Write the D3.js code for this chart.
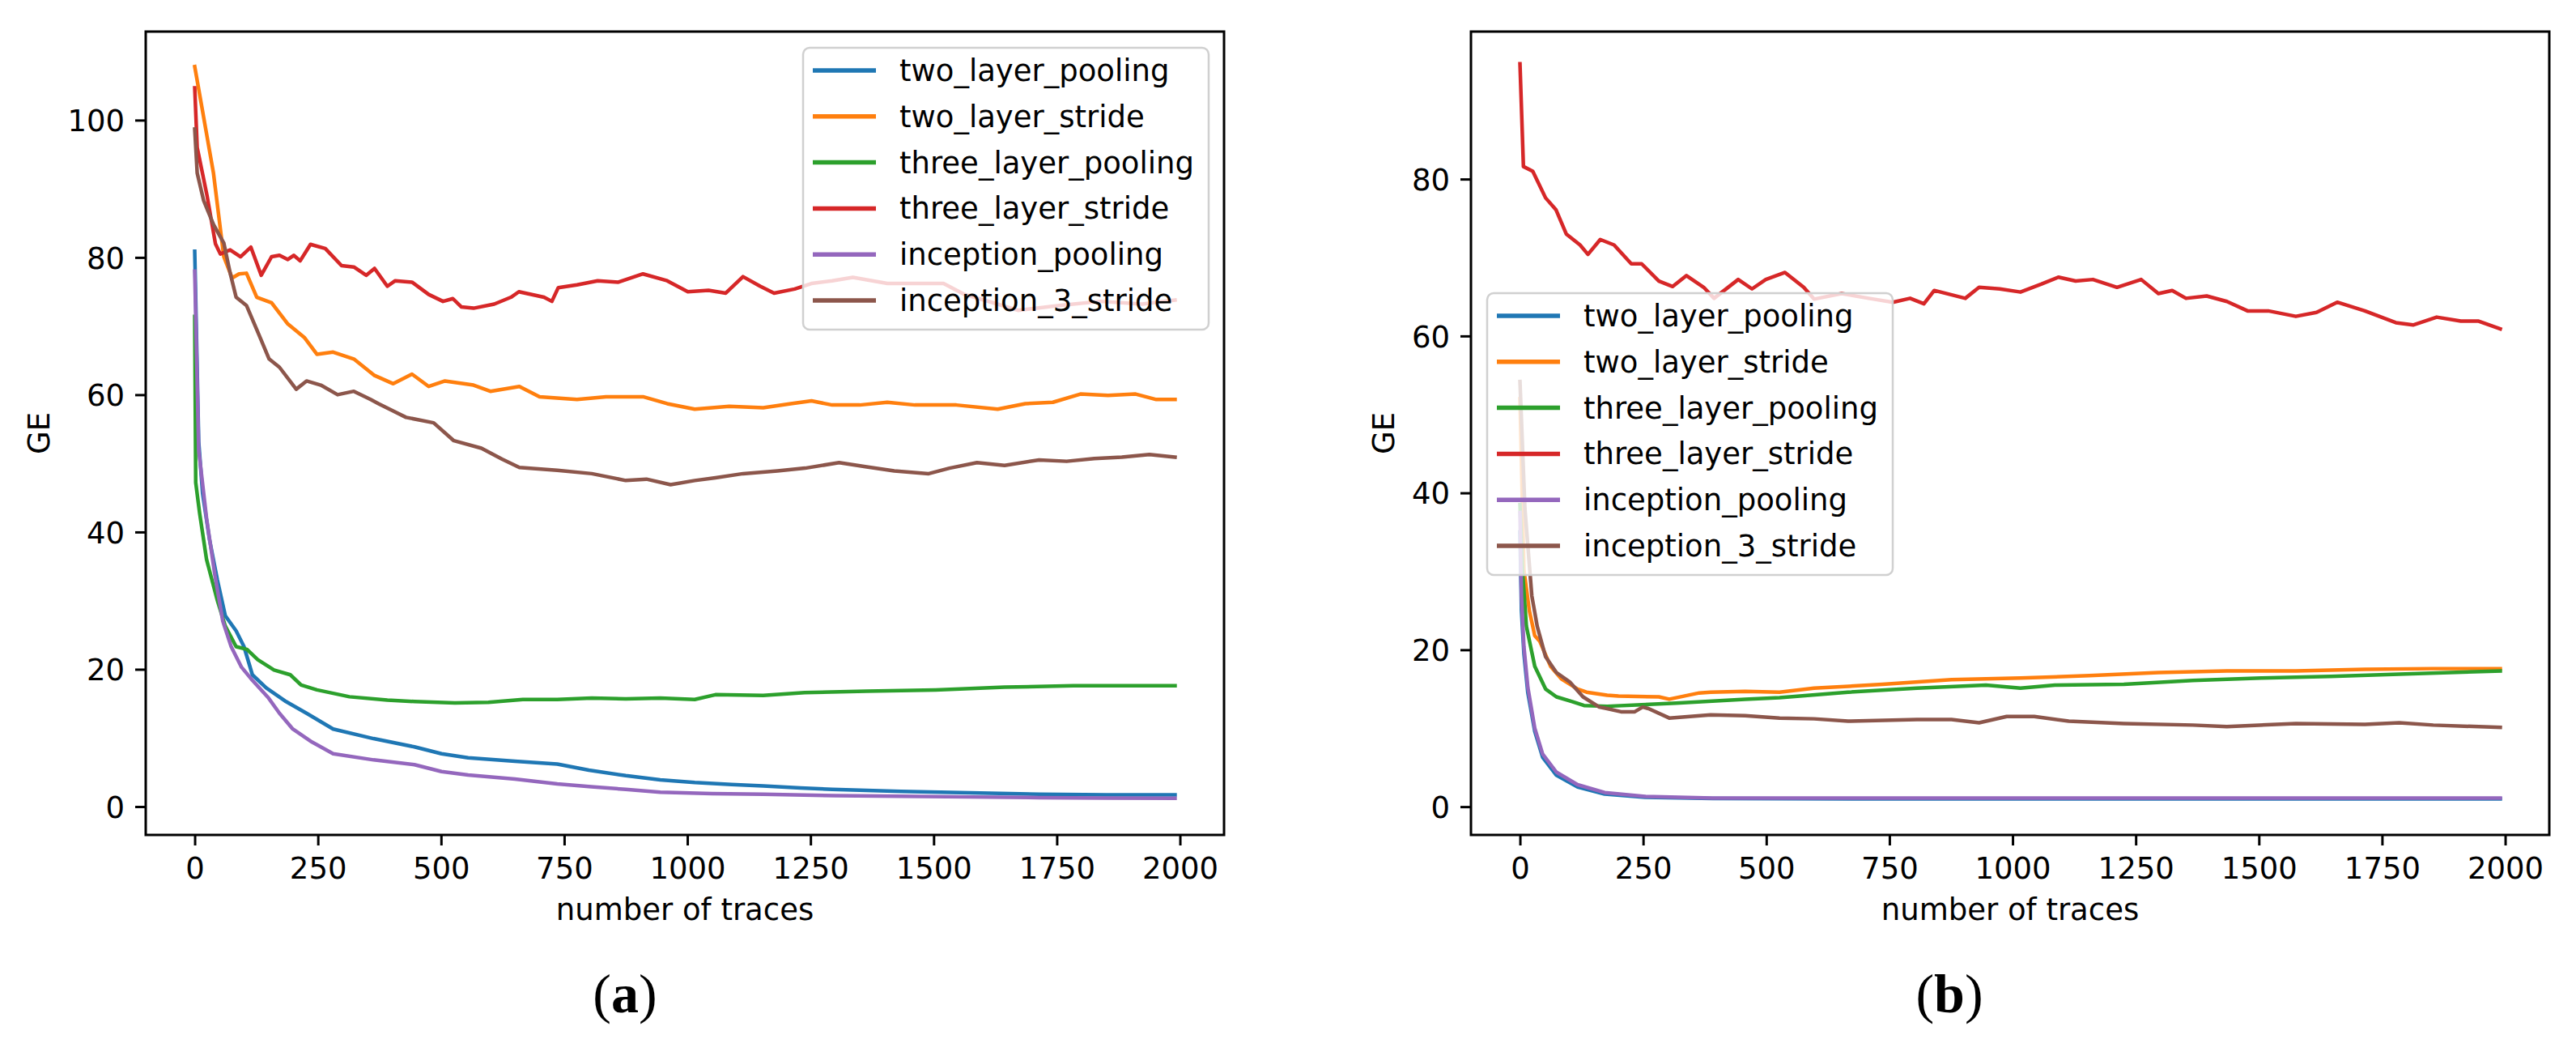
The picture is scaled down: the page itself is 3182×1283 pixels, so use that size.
<!DOCTYPE html>
<html>
<head>
<meta charset="utf-8">
<script src="https://cdn.jsdelivr.net/npm/d3@7"></script>
<style>
  body { margin: 0; background: #fff; }
  svg { display: block; }
</style>
</head>
<body>
<div id="chart"></div>
<script>
// series names + colours (matplotlib tab10 order)
const seriesNames = ["two_layer_pooling", "two_layer_stride", "three_layer_pooling",
  "three_layer_stride", "inception_pooling", "inception_3_stride"];
const seriesColors = ["#1f77b4", "#ff7f0e", "#2ca02c", "#d62728", "#9467bd", "#8c564b"];

const xTicks = [0, 250, 500, 750, 1000, 1250, 1500, 1750, 2000];
const yTicksA = [0, 20, 40, 60, 80, 100];
const yTicksB = [0, 20, 40, 60, 80];

// ---- panel (a) : [traces, GE] ----
const aTwoLayerPooling = [[0,80.9],[8,53.2],[16,45.6],[30,38.9],[46,33.0],[62,27.8],[84,25.6],[100,23.3],[117,19.2],[145,17.3],[183,15.4],[227,13.6],[281,11.3],[363,9.9],[446,8.7],[501,7.7],[555,7.1],[650,6.6],[736,6.2],[800,5.3],[875,4.5],[945,3.9],[1015,3.5],[1090,3.2],[1154,3.0],[1230,2.7],[1294,2.5],[1434,2.2],[1574,2.0],[1714,1.8],[1850,1.7],[1990,1.7]];
const aTwoLayerStride = [[0,107.8],[38,92.3],[59,80.1],[76,77.0],[90,77.6],[105,77.7],[126,74.2],[156,73.4],[189,70.3],[223,68.3],[248,65.9],[281,66.2],[323,65.2],[365,62.8],[403,61.6],[441,63.0],[475,61.2],[508,62.0],[566,61.4],[600,60.5],[659,61.2],[700,59.7],[776,59.3],[835,59.7],[910,59.7],[959,58.7],[1015,57.9],[1085,58.3],[1154,58.1],[1210,58.7],[1252,59.1],[1294,58.5],[1350,58.5],[1406,58.9],[1462,58.5],[1546,58.5],[1630,57.9],[1686,58.7],[1742,58.9],[1798,60.1],[1854,59.9],[1910,60.1],[1952,59.3],[1990,59.3]];
const aThreeLayerPooling = [[0,71.4],[2,47.2],[10,42.7],[24,36.0],[46,30.0],[62,26.3],[84,23.3],[106,22.9],[128,21.4],[161,19.9],[194,19.2],[216,17.7],[248,17.0],[314,16.0],[391,15.5],[446,15.3],[528,15.1],[596,15.2],[666,15.6],[736,15.6],[806,15.8],[875,15.7],[945,15.8],[1015,15.6],[1057,16.3],[1154,16.2],[1238,16.6],[1364,16.8],[1504,17.0],[1644,17.4],[1784,17.6],[1990,17.6]];
const aThreeLayerStride = [[0,104.7],[5,96],[25,89],[42,82],[52,80.5],[59,80.7],[72,81.1],[93,80.1],[114,81.5],[135,77.4],[156,80.1],[172,80.3],[189,79.7],[201,80.3],[214,79.5],[235,81.9],[265,81.3],[298,78.8],[323,78.6],[348,77.4],[365,78.4],[391,75.8],[407,76.6],[441,76.4],[475,74.6],[504,73.6],[524,74.0],[541,72.8],[566,72.6],[608,73.2],[642,74.2],[658,75.0],[709,74.2],[725,73.6],[738,75.6],[776,76.0],[818,76.6],[860,76.4],[910,77.6],[959,76.6],[1001,75.0],[1043,75.2],[1078,74.8],[1113,77.2],[1148,75.8],[1176,74.8],[1218,75.4],[1252,76.2],[1294,76.6],[1336,77.1],[1406,76.2],[1454,76.2],[1520,76.2],[1563,74.6],[1616,73.5],[1671,72.3],[1755,73.0],[1839,73.6],[1923,73.2],[1990,73.8]];
const aInceptionPooling = [[0,78.0],[8,52],[24,42.0],[41,33.7],[57,27.0],[74,23.3],[95,20.3],[117,18.4],[150,15.8],[172,13.6],[199,11.3],[238,9.4],[281,7.7],[363,6.8],[446,6.1],[501,5.1],[555,4.6],[650,4.0],[736,3.3],[805,2.9],[875,2.5],[945,2.1],[1050,1.9],[1154,1.8],[1300,1.6],[1434,1.5],[1574,1.4],[1714,1.3],[1850,1.25],[1990,1.2]];
const aInception3Stride = [[0,98.7],[5,92.3],[18,88.3],[38,84.8],[59,82.1],[72,77.7],[84,74.2],[105,73.0],[130,68.8],[151,65.2],[172,64.0],[206,60.8],[227,62.0],[256,61.4],[290,60.0],[323,60.5],[357,59.3],[373,58.7],[429,56.7],[485,55.9],[526,53.3],[582,52.2],[624,50.6],[659,49.4],[736,49.0],[806,48.5],[875,47.5],[917,47.7],[966,46.9],[1015,47.5],[1057,47.9],[1113,48.5],[1183,48.9],[1239,49.3],[1308,50.1],[1364,49.5],[1420,48.9],[1490,48.5],[1532,49.3],[1588,50.1],[1644,49.7],[1714,50.5],[1770,50.3],[1826,50.7],[1882,50.9],[1938,51.3],[1990,50.9]];

// ---- panel (b) ----
const bTwoLayerPooling = [[0,35],[3,25],[8,19.5],[16,14.5],[30,9.6],[46,6.3],[74,4.0],[117,2.5],[172,1.6],[254,1.2],[391,1.05],[700,1.0],[1200,1.0],[1990,1.0]];
const bTwoLayerStride = [[0,52],[8,30.2],[19,25.0],[30,21.8],[40,21.1],[62,17.9],[84,16.3],[117,15.0],[135,14.6],[177,14.2],[200,14.1],[282,14.0],[303,13.7],[364,14.5],[387,14.6],[457,14.7],[527,14.6],[597,15.1],[736,15.6],[876,16.2],[1016,16.4],[1156,16.7],[1296,17.1],[1435,17.3],[1575,17.3],[1715,17.5],[1854,17.6],[1990,17.6]];
const bThreeLayerPooling = [[0,38.5],[5,30.2],[13,23.0],[30,17.9],[52,15.0],[74,14.0],[106,13.4],[130,12.9],[177,12.8],[247,13.0],[317,13.2],[457,13.7],[527,13.9],[666,14.6],[806,15.1],[946,15.5],[1016,15.1],[1086,15.5],[1226,15.6],[1366,16.1],[1505,16.4],[1645,16.6],[1785,16.9],[1990,17.3]];
const bThreeLayerStride = [[0,94.7],[7,81.6],[26,81.0],[52,77.6],[73,76.1],[94,73.0],[122,71.6],[138,70.4],[163,72.3],[191,71.6],[226,69.2],[247,69.2],[282,67.0],[310,66.3],[338,67.7],[373,66.2],[394,64.8],[443,67.2],[471,66.0],[499,67.2],[538,68.1],[576,66.2],[597,64.7],[653,65.4],[708,64.8],[757,64.3],[792,64.8],[820,64.1],[841,65.8],[904,64.8],[932,66.2],[974,66.0],[1016,65.6],[1058,66.6],[1093,67.5],[1128,67.0],[1163,67.2],[1212,66.2],[1261,67.2],[1296,65.4],[1324,65.8],[1352,64.8],[1394,65.1],[1435,64.4],[1477,63.2],[1519,63.2],[1575,62.5],[1617,63.0],[1659,64.3],[1715,63.2],[1778,61.7],[1813,61.4],[1861,62.4],[1910,61.9],[1945,61.9],[1990,60.9]];
const bInceptionPooling = [[0,37.5],[3,26.9],[8,20.4],[16,15.2],[30,10.0],[46,6.7],[74,4.4],[117,2.8],[172,1.8],[254,1.3],[391,1.1],[700,1.1],[1200,1.1],[1990,1.1]];
const bInception3Stride = [[0,54.2],[10,38],[24,26.9],[35,23.0],[52,19.1],[74,17.1],[101,15.9],[128,14.0],[161,12.7],[177,12.5],[205,12.1],[233,12.1],[249,12.7],[261,12.5],[303,11.3],[387,11.7],[457,11.6],[527,11.3],[597,11.2],[666,10.9],[806,11.1],[876,11.1],[932,10.7],[988,11.5],[1044,11.5],[1114,10.9],[1226,10.6],[1366,10.4],[1435,10.2],[1575,10.6],[1715,10.5],[1785,10.7],[1854,10.4],[1990,10.1]];

const W = 3182, H = 1283;
const FONT = "'DejaVu Sans', sans-serif";

const svg = d3.select("#chart").append("svg")
  .attr("width", W)
  .attr("height", H)
  .attr("font-family", FONT);

function drawPanel(cfg) {
  const x = d3.scaleLinear().domain([-99.5, 2089.5]).range([cfg.left, cfg.right]);
  const y = d3.scaleLinear().domain(cfg.yDomain).range([cfg.bottom, cfg.top]);

  const g = svg.append("g");

  // clip to axes box
  g.append("clipPath").attr("id", cfg.id + "-clip")
    .append("rect")
    .attr("x", cfg.left).attr("y", cfg.top)
    .attr("width", cfg.right - cfg.left).attr("height", cfg.bottom - cfg.top);

  const line = d3.line().x((d) => x(d[0])).y((d) => y(d[1]));

  g.append("g")
    .attr("clip-path", `url(#${cfg.id}-clip)`)
    .selectAll("path")
    .data(cfg.series)
    .enter()
    .append("path")
    .attr("d", (d) => line(d))
    .attr("fill", "none")
    .attr("stroke", (d, i) => seriesColors[i])
    .attr("stroke-width", 4.5)
    .attr("stroke-linejoin", "round")
    .attr("stroke-linecap", "square");

  // axes
  const xAxis = g.append("g")
    .attr("transform", `translate(0,${cfg.bottom})`)
    .call(d3.axisBottom(x).tickValues(xTicks).tickSize(13).tickPadding(13).tickFormat(d3.format("d")));
  const yAxis = g.append("g")
    .attr("transform", `translate(${cfg.left},0)`)
    .call(d3.axisLeft(y).tickValues(cfg.yTicks).tickSize(13).tickPadding(13).tickFormat(d3.format("d")));

  [xAxis, yAxis].forEach((ax) => {
    ax.select(".domain").remove();
    ax.selectAll(".tick line").attr("stroke", "#000").attr("stroke-width", 3);
    ax.selectAll(".tick text")
      .attr("fill", "#000")
      .attr("font-family", FONT)
      .attr("font-size", 37);
  });
  xAxis.selectAll(".tick text").attr("dy", "0.76em");
  yAxis.selectAll(".tick text").attr("dy", "0.36em");

  // frame
  g.append("rect")
    .attr("x", cfg.left).attr("y", cfg.top)
    .attr("width", cfg.right - cfg.left).attr("height", cfg.bottom - cfg.top)
    .attr("fill", "none")
    .attr("stroke", "#000")
    .attr("stroke-width", 3);

  // axis labels
  g.append("text")
    .attr("x", (cfg.left + cfg.right) / 2)
    .attr("y", 1136)
    .attr("text-anchor", "middle")
    .attr("font-size", 37)
    .text("number of traces");

  g.append("text")
    .attr("transform", `translate(${cfg.yLabelX},${(cfg.top + cfg.bottom) / 2}) rotate(-90)`)
    .attr("text-anchor", "middle")
    .attr("font-size", 37)
    .text("GE");

  // legend
  const lg = g.append("g").attr("transform", `translate(${cfg.legendX},${cfg.legendY})`);
  lg.append("rect")
    .attr("width", 501).attr("height", 348)
    .attr("rx", 8)
    .attr("fill", "#fff").attr("fill-opacity", 0.8)
    .attr("stroke", "#d0d0d0").attr("stroke-width", 2.5);

  const rows = lg.selectAll(".row")
    .data(seriesNames)
    .enter()
    .append("g")
    .attr("transform", (d, i) => `translate(0,${28 + i * 56.8})`);
  rows.append("line")
    .attr("x1", 12).attr("x2", 90)
    .attr("stroke", (d, i) => seriesColors[i])
    .attr("stroke-width", 5.5);
  rows.append("text")
    .attr("x", 119)
    .attr("y", 13)
    .attr("font-size", 37)
    .text((d) => d);

  // caption
  const cap = svg.append("text")
    .attr("x", cfg.capX)
    .attr("y", 1250)
    .attr("text-anchor", "middle")
    .attr("font-family", "'Liberation Serif', serif")
    .attr("font-size", 68);
  cap.append("tspan").text("(");
  cap.append("tspan").attr("font-weight", "bold").text(cfg.caption);
  cap.append("tspan").text(")");
}

drawPanel({
  id: "pa",
  left: 180, right: 1512, top: 39, bottom: 1031,
  yDomain: [-4.13, 112.9],
  yTicks: yTicksA,
  yLabelX: 61,
  legendX: 992, legendY: 59,
  capX: 772, caption: "a",
  series: [aTwoLayerPooling, aTwoLayerStride, aThreeLayerPooling,
    aThreeLayerStride, aInceptionPooling, aInception3Stride],
});

drawPanel({
  id: "pb",
  left: 1817, right: 3149, top: 39, bottom: 1031,
  yDomain: [-3.6, 98.8],
  yTicks: yTicksB,
  yLabelX: 1722,
  legendX: 1837, legendY: 362,
  capX: 2408, caption: "b",
  series: [bTwoLayerPooling, bTwoLayerStride, bThreeLayerPooling,
    bThreeLayerStride, bInceptionPooling, bInception3Stride],
});
</script>
</body>
</html>
